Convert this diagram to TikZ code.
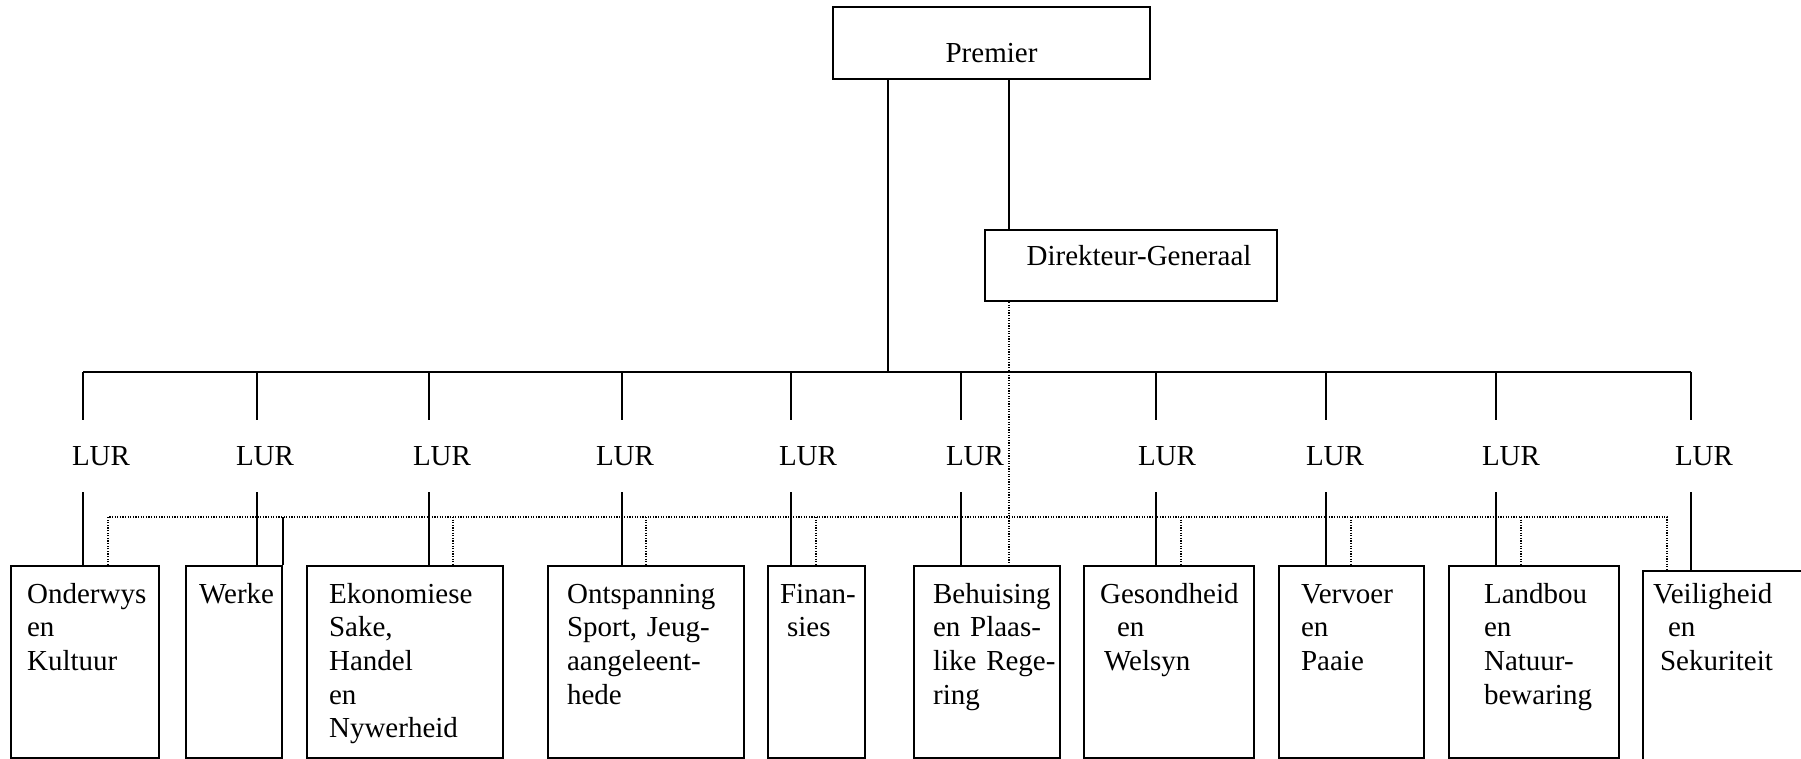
\documentclass[tikz,border=0pt]{standalone}
\usepackage{fontspec}
\setmainfont{Liberation Serif}
\usepackage{tikz}
\hyphenpenalty=10000
\exhyphenpenalty=10000

\begin{document}
\begin{tikzpicture}[x=1pt,y=-1pt]

%
% Styles
%
\tikzstyle{txt}  = [font=\fontsize{29pt}{33.7pt}\selectfont]
\tikzstyle{head} = [txt,draw,line width=2pt,inner ysep=0pt]
\tikzstyle{dept} = [txt,draw,line width=2.2pt,anchor=north west,align=left,inner ysep=0pt,text height=37pt,text depth=155pt]
\tikzstyle{lur}  = [txt,inner sep=0pt,minimum height=72pt]
\tikzstyle{edge} = [line width=2pt]
\tikzstyle{dots} = [line width=1.2pt,dash pattern=on 1.2pt off 1.4pt]

\useasboundingbox (0,0) rectangle (1801,759);
\clip (0,0) rectangle (1801,759);

\node[head,minimum width=317pt,text height=56pt,text depth=16pt] (premier) at (991.5,43) {Premier};
\node[head,minimum width=292pt,text height=36pt,text depth=35pt] (dg) at (1131,265.5) {\hspace*{16pt}Direkteur-Generaal};

\node[dept,text width=116pt,inner xsep=16pt] (onderwys)    at (10,565)   {Onderwys\\en\\Kultuur};
\node[dept,text width=70pt, inner xsep=13pt] (werke)       at (185,565)  {Werke};
\node[dept,text width=152pt,inner xsep=22pt] (ekonomie)    at (306,565)  {Ekonomiese\\Sake,\\Handel\\en\\Nywerheid};
\node[dept,text width=158pt,inner xsep=19pt] (ontspanning) at (547,565)  {Ontspanning\\Sport,~Jeug-\\aangeleent-\\hede};
\node[dept,text width=73pt, inner xsep=12pt] (finansies)   at (767,565)  {Finan-\\\hspace*{7pt}sies};
\node[dept,text width=108pt,inner xsep=19pt] (behuising)   at (913,565)  {Behuising\\en~Plaas-\\like~Rege-\\ring};
\node[dept,text width=138pt,inner xsep=16pt] (gesondheid)  at (1083,565) {Gesondheid\\\hspace*{17pt}en\\\hspace*{4pt}Welsyn};
\node[dept,text width=101pt,inner xsep=22pt] (vervoer)     at (1278,565) {Vervoer\\en\\Paaie};
\node[dept,text width=100pt,inner xsep=35pt] (landbou)     at (1448,565) {Landbou\\en\\Natuur-\\bewaring};
\node[dept,text width=200pt,inner xsep=10pt,text height=32pt,text depth=168pt] (veiligheid) at (1642,570) {Veiligheid\\\hspace*{15pt}en\\\hspace*{7pt}Sekuriteit};

\node[lur] (lur1)  at (101,456)  {LUR};
\node[lur] (lur2)  at (265,456)  {LUR};
\node[lur] (lur3)  at (442,456)  {LUR};
\node[lur] (lur4)  at (625,456)  {LUR};
\node[lur] (lur5)  at (808,456)  {LUR};
\node[lur] (lur6)  at (975,456)  {LUR};
\node[lur] (lur7)  at (1167,456) {LUR};
\node[lur] (lur8)  at (1335,456) {LUR};
\node[lur] (lur9)  at (1511,456) {LUR};
\node[lur] (lur10) at (1704,456) {LUR};

\coordinate (s1)  at (83,372);
\coordinate (s2)  at (257,372);
\coordinate (s3)  at (429,372);
\coordinate (s4)  at (622,372);
\coordinate (s5)  at (791,372);
\coordinate (s6)  at (961,372);
\coordinate (s7)  at (1156,372);
\coordinate (s8)  at (1326,372);
\coordinate (s9)  at (1496,372);
\coordinate (s10) at (1691,372);
\coordinate (pj)  at (888,372);

\coordinate (d1)  at (108,517);
\coordinate (d3)  at (453,517);
\coordinate (d4)  at (646,517);
\coordinate (d5)  at (816,517);
\coordinate (dj)  at (1009,517);
\coordinate (d7)  at (1181,517);
\coordinate (d8)  at (1351,517);
\coordinate (d9)  at (1521,517);
\coordinate (d10) at (1667,517);

% line of command
\draw[edge] (premier.south -| pj) -- (pj);
\draw[edge] (premier.south -| dj) -- (dg.north -| dj);
\draw[edge] (s1) -- (s10);

\draw[edge] (s1) -- (lur1.north -| s1);    \draw[edge] (lur1.south -| s1) -- (onderwys.north -| s1);
\draw[edge] (s2) -- (lur2.north -| s2);    \draw[edge] (lur2.south -| s2) -- (werke.north -| s2);
\draw[edge] (s3) -- (lur3.north -| s3);    \draw[edge] (lur3.south -| s3) -- (ekonomie.north -| s3);
\draw[edge] (s4) -- (lur4.north -| s4);    \draw[edge] (lur4.south -| s4) -- (ontspanning.north -| s4);
\draw[edge] (s5) -- (lur5.north -| s5);    \draw[edge] (lur5.south -| s5) -- (finansies.north -| s5);
\draw[edge] (s6) -- (lur6.north -| s6);    \draw[edge] (lur6.south -| s6) -- (behuising.north -| s6);
\draw[edge] (s7) -- (lur7.north -| s7);    \draw[edge] (lur7.south -| s7) -- (gesondheid.north -| s7);
\draw[edge] (s8) -- (lur8.north -| s8);    \draw[edge] (lur8.south -| s8) -- (vervoer.north -| s8);
\draw[edge] (s9) -- (lur9.north -| s9);    \draw[edge] (lur9.south -| s9) -- (landbou.north -| s9);
\draw[edge] (s10) -- (lur10.north -| s10); \draw[edge] (lur10.south -| s10) -- (veiligheid.north -| s10);

% Direkteur-Generaal
\draw[dots] (dg.south -| dj) -- (behuising.north -| dj);
\draw[dots] (onderwys.north -| d1) -- (d1) -- (d10) -- (veiligheid.north -| d10);
\draw[edge] (werke.north east) -- (werke.north east |- d1);
\draw[dots] (d3) -- (ekonomie.north -| d3);
\draw[dots] (d4) -- (ontspanning.north -| d4);
\draw[dots] (d5) -- (finansies.north -| d5);
\draw[dots] (d7) -- (gesondheid.north -| d7);
\draw[dots] (d8) -- (vervoer.north -| d8);
\draw[dots] (d9) -- (landbou.north -| d9);

\end{tikzpicture}
\end{document}
